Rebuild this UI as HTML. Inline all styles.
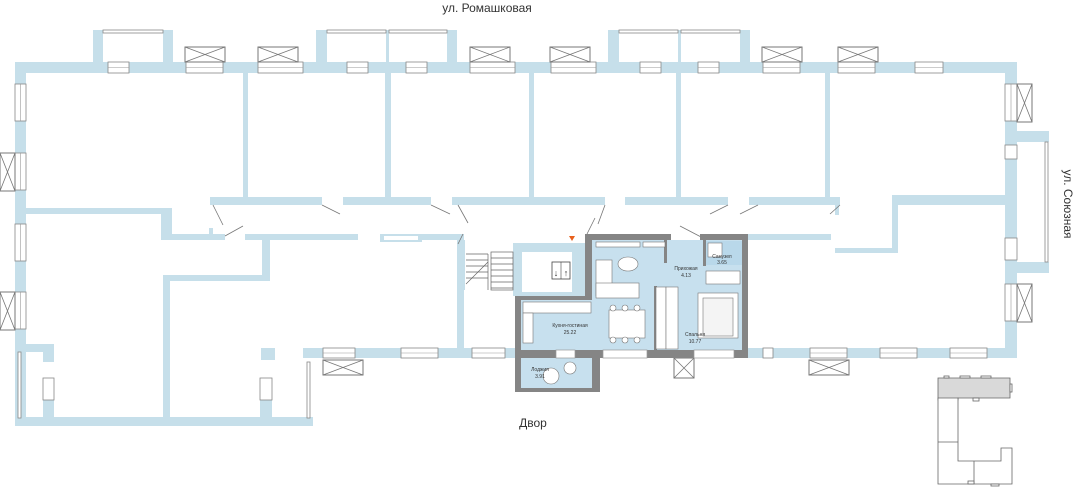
<!DOCTYPE html>
<html><head><meta charset="utf-8"><style>
html,body{margin:0;padding:0;background:#fff;}
svg{display:block;font-family:"Liberation Sans",sans-serif;}
</style></head><body>
<svg width="1080" height="487" viewBox="0 0 1080 487" xmlns="http://www.w3.org/2000/svg">
<defs>
<g id="ac"><rect x="0" y="0" width="40" height="15" fill="#fff" stroke="#777" stroke-width="1"/><path d="M0 0L40 15M40 0L0 15" stroke="#777" stroke-width="0.8"/></g>
<g id="acv"><rect x="0" y="0" width="15" height="38" fill="#fff" stroke="#777" stroke-width="1"/><path d="M0 0L15 38M15 0L0 38" stroke="#777" stroke-width="0.8"/></g>
</defs>
<text x="487" y="12" font-size="12" fill="#333" text-anchor="middle">ул. Ромашковая</text>
<text x="533" y="427" font-size="12" fill="#333" text-anchor="middle">Двор</text>
<text transform="translate(1064,204) rotate(90)" font-size="12" fill="#333" text-anchor="middle">ул. Союзная</text>

<g fill="#c6dfea">
<rect x="15" y="62" width="1002" height="11"/>
<rect x="93" y="30" width="10" height="32"/><rect x="163" y="30" width="10" height="32"/>
<rect x="316" y="30" width="11" height="32"/><rect x="447" y="30" width="10" height="32"/>
<rect x="608" y="30" width="11" height="32"/><rect x="740" y="30" width="10" height="32"/>
<rect x="386" y="30" width="3" height="32"/><rect x="678" y="30" width="3" height="32"/>
<rect x="15" y="62" width="11" height="362"/>
<rect x="26" y="344" width="28" height="8"/><rect x="43" y="344" width="11" height="18"/>
<rect x="15" y="417" width="298" height="9"/>
<rect x="43" y="400" width="11" height="18"/><rect x="260" y="400" width="12" height="18"/>
<rect x="261" y="348" width="14" height="12"/>
<rect x="243" y="73" width="5" height="126"/><rect x="385" y="73" width="6" height="126"/>
<rect x="529" y="73" width="5" height="126"/><rect x="676" y="73" width="5" height="126"/>
<rect x="825" y="73" width="5" height="126"/>
<rect x="210" y="197" width="112" height="8"/><rect x="343" y="197" width="88" height="8"/>
<rect x="452" y="197" width="153" height="8"/><rect x="625" y="197" width="103" height="8"/>
<rect x="749" y="197" width="91" height="8"/><rect x="835" y="203" width="4" height="12"/>
<rect x="26" y="208" width="146" height="6"/><rect x="161" y="208" width="11" height="32"/>
<rect x="161" y="234" width="64" height="6"/><rect x="209" y="228" width="4" height="8"/>
<rect x="245" y="234" width="113" height="6"/><rect x="380" y="234" width="42" height="8"/>
<rect x="410" y="234" width="52" height="6"/>
<rect x="457" y="234" width="7" height="120"/>
<rect x="262" y="238" width="8" height="42"/><rect x="163" y="275" width="107" height="6"/>
<rect x="163" y="275" width="7" height="145"/>
<rect x="303" y="348" width="212" height="10"/>
<rect x="513" y="243" width="72" height="53"/>
<rect x="748" y="234" width="83" height="6"/><rect x="820" y="234" width="10" height="3"/>
<rect x="835" y="248" width="62" height="5"/><rect x="892" y="195" width="6" height="58"/>
<rect x="892" y="195" width="125" height="10"/>
<rect x="1005" y="62" width="12" height="296"/>
<rect x="1017" y="131" width="32" height="11"/><rect x="1017" y="262" width="32" height="11"/>
<rect x="1005" y="175" width="12" height="28"/>
<rect x="740" y="348" width="277" height="10"/>
<rect x="457" y="240" width="8" height="50"/>
</g>
<rect x="522" y="252" width="50" height="40" fill="#fff"/>
<rect x="384" y="236" width="34" height="4" fill="#fff"/>
<rect x="552" y="262" width="18" height="17" fill="#fff" stroke="#444" stroke-width="0.8"/>
<line x1="561" y1="262" x2="561" y2="279" stroke="#444" stroke-width="0.6"/>
<text x="556" y="276" font-size="9" fill="#333" text-anchor="middle">↓</text><text x="566" y="276" font-size="9" fill="#333" text-anchor="middle">↑</text>
<g stroke="#666" stroke-width="0.7" fill="none">
<rect x="491" y="252" width="22" height="38"/>
<path d="M466 254H488M466 260H488M466 266H488M466 272H488M466 278H488M491 258H513M491 264H513M491 270H513M491 276H513M491 282H513M491 288H513M488 254V290M466 284L488 262"/>
</g>
<g stroke="#888" stroke-width="0.8" fill="#fff">
<rect x="103" y="30" width="60" height="3"/><rect x="327" y="30" width="59" height="3"/><rect x="389" y="30" width="58" height="3"/>
<rect x="619" y="30" width="59" height="3"/><rect x="681" y="30" width="59" height="3"/>
<rect x="108" y="62" width="21" height="11"/><rect x="347" y="62" width="21" height="11"/><rect x="406" y="62" width="21" height="11"/>
<rect x="186" y="62" width="37" height="11"/><rect x="258" y="62" width="45" height="11"/>
<rect x="470" y="62" width="45" height="11"/><rect x="551" y="62" width="45" height="11"/>
<rect x="640" y="62" width="21" height="11"/><rect x="698" y="62" width="21" height="11"/>
<rect x="763" y="62" width="37" height="11"/><rect x="838" y="62" width="37" height="11"/><rect x="915" y="62" width="28" height="11"/>
<rect x="15" y="84" width="11" height="37"/><rect x="15" y="153" width="11" height="37"/>
<rect x="15" y="224" width="11" height="37"/><rect x="15" y="292" width="11" height="37"/>
<rect x="1005" y="84" width="12" height="37"/><rect x="1005" y="145" width="12" height="14"/>
<rect x="1005" y="238" width="12" height="22"/><rect x="1005" y="284" width="12" height="37"/>
<rect x="1045" y="142" width="3" height="120"/>
<rect x="18" y="352" width="3" height="66"/><rect x="307" y="362" width="3" height="56"/>
<rect x="43" y="378" width="11" height="22"/><rect x="260" y="378" width="12" height="22"/>
<rect x="323" y="348" width="32" height="10"/><rect x="401" y="348" width="37" height="10"/><rect x="472" y="348" width="33" height="10"/>
<rect x="763" y="348" width="10" height="10"/><rect x="810" y="348" width="37" height="10"/>
<rect x="880" y="348" width="37" height="10"/><rect x="950" y="348" width="37" height="10"/>
</g>
<g stroke="#999" stroke-width="0.6">
<path d="M108 67.5H129M347 67.5H368M406 67.5H427M186 67.5H223M258 67.5H303M470 67.5H515M551 67.5H596M640 67.5H661M698 67.5H719M763 67.5H800M838 67.5H875M915 67.5H943M323 353H355M401 353H438M472 353H505M810 353H847M880 353H917M950 353H987"/>
<path d="M20.5 84V121M20.5 153V190M20.5 224V261M20.5 292V329M1011 84V121M1011 284V321"/>
</g>
<use href="#ac" x="185" y="47"/><use href="#ac" x="258" y="47"/><use href="#ac" x="470" y="47"/><use href="#ac" x="550" y="47"/>
<use href="#ac" x="762" y="47"/><use href="#ac" x="838" y="47"/>
<use href="#ac" x="323" y="360"/><use href="#ac" x="809" y="360"/>
<use href="#acv" x="1017" y="84"/><use href="#acv" x="1017" y="284"/>
<use href="#acv" x="0" y="153"/><use href="#acv" x="0" y="292"/>
<rect x="674" y="358" width="20" height="20" fill="#fff" stroke="#777"/><path d="M674 358L694 378M694 358L674 378" stroke="#777" stroke-width="0.8"/>
<g stroke="#777" stroke-width="0.8">
<path d="M213 205L223 225M225 236L243 226M322 205L340 214M431 205L450 214M458 205L468 223M458 244L463 234M605 205L598 224M587 234L595 218M728 205L710 214M740 214L758 205M840 205L830 214M680 226L703 238"/>
</g>
<path d="M592 240H742V350H521V300H592Z" fill="#c7e0ee"/>
<rect x="521" y="358" width="71" height="34" fill="#c7e0ee"/>
<rect x="704" y="241" width="38" height="24" fill="#b9d8ea"/>
<g fill="#858585">
<rect x="585" y="234" width="86" height="6"/><rect x="700" y="234" width="48" height="6"/>
<rect x="585" y="234" width="7" height="66"/><rect x="742" y="234" width="6" height="124"/>
<rect x="515" y="296" width="77" height="4"/><rect x="515" y="296" width="6" height="96"/>
<rect x="515" y="350" width="233" height="8"/><rect x="592" y="350" width="8" height="42"/>
<rect x="515" y="388" width="85" height="4"/>
<rect x="654" y="286" width="3" height="64"/><rect x="703" y="240" width="3" height="26"/>
<rect x="664" y="240" width="3" height="23"/>
</g>
<g fill="#fff" stroke="#999" stroke-width="0.7">
<rect x="556" y="350" width="19" height="8"/><rect x="603" y="350" width="44" height="8"/><rect x="694" y="350" width="40" height="8"/>
</g>
<polygon points="569,236 575,236 572,241" fill="#e8601c"/>
<g fill="#fff" stroke="#777" stroke-width="0.6">
<rect x="596" y="242" width="44" height="5"/><rect x="643" y="242" width="22" height="5"/>
<rect x="596" y="260" width="16" height="36"/><rect x="596" y="283" width="43" height="15"/>
<ellipse cx="628" cy="264" rx="10" ry="7"/>
<rect x="523" y="302" width="68" height="11"/>
<rect x="523" y="313" width="10" height="30"/>
<rect x="609" y="310" width="36" height="28"/>
<circle cx="613" cy="308" r="3"/><circle cx="625" cy="308" r="3"/><circle cx="637" cy="308" r="3"/>
<circle cx="613" cy="340" r="3"/><circle cx="625" cy="340" r="3"/><circle cx="637" cy="340" r="3"/>
<rect x="656" y="287" width="10" height="62"/><rect x="666" y="287" width="12" height="62"/>
<rect x="698" y="293" width="40" height="45"/><rect x="703" y="298" width="30" height="38" fill="#f4f4f4"/>
<rect x="706" y="271" width="34" height="13"/><rect x="708" y="243" width="14" height="14"/>
<circle cx="551" cy="376" r="8"/><circle cx="570" cy="368" r="6"/>
</g>
<g font-size="5" fill="#333" text-anchor="middle">
<text x="686" y="270">Прихожая</text><text x="686" y="277">4.13</text>
<text x="722" y="258">Санузел</text><text x="722" y="264">3.65</text>
<text x="570" y="327">Кухня-гостиная</text><text x="570" y="334">25.22</text>
<text x="695" y="336">Спальня</text><text x="695" y="343">10.77</text>
<text x="540" y="371">Лоджия</text><text x="540" y="378">3.91</text>
</g>
<g stroke="#666" stroke-width="0.8" fill="#fff">
<path d="M938 378H1010V398H958V400H938Z" fill="#d9d9d9"/>
<path d="M938 398H958V461H1001V448H1012V484H938Z"/>
<path d="M938 442H958M974 461V484"/>
<rect x="944" y="376" width="5" height="2"/><rect x="960" y="376" width="10" height="2"/><rect x="981" y="376" width="10" height="2"/>
<rect x="1010" y="384" width="2" height="8"/><rect x="973" y="398" width="6" height="3"/>
<rect x="968" y="481" width="6" height="3"/><rect x="991" y="484" width="8" height="2"/>
</g>
</svg>
</body></html>
